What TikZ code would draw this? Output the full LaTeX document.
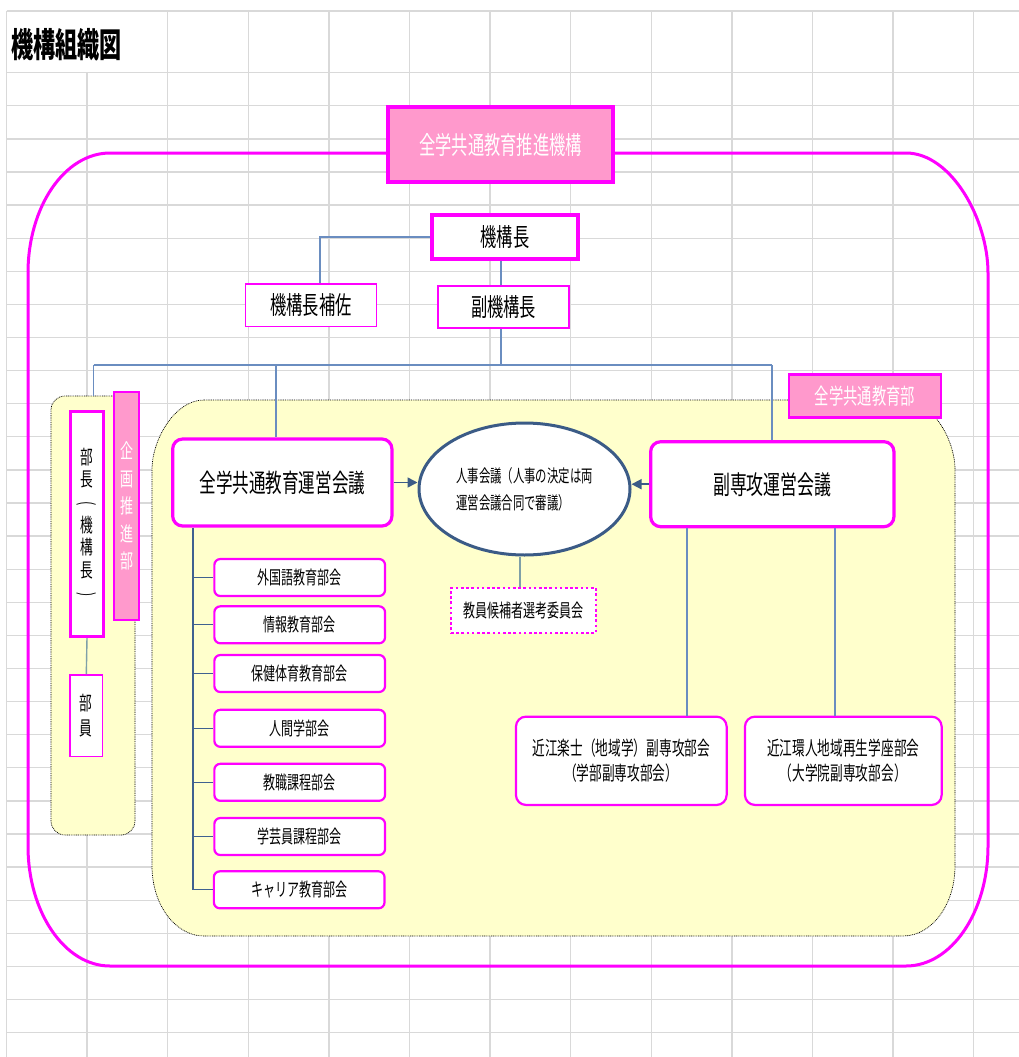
\documentclass[tikz,border=0pt]{standalone}
\usepackage{fontspec}
\newfontfamily\jp[FakeStretch=0.65]{Noto Sans CJK JP}
\usetikzlibrary{shapes.geometric,arrows.meta,calc}
\definecolor{mag}{HTML}{FF00FF}
\definecolor{pinkf}{HTML}{FF99CC}
\definecolor{yel}{HTML}{FFFFCC}
\definecolor{gridc}{HTML}{D9D9D9}
\definecolor{connc}{HTML}{6A8DC0}
\definecolor{dconnc}{HTML}{3F6190}
\definecolor{gconnc}{HTML}{7FA0A8}
\definecolor{ellc}{HTML}{3B5B86}
\newcommand{\vlp}{\rotatebox[origin=c]{-90}{(}}
\newcommand{\vrp}{\rotatebox[origin=c]{-90}{)}}
\tikzset{
  gridl/.style={draw=gridc, line width=1.3pt},
  panel/.style={fill=yel, draw=black, line width=0.7pt, dash pattern=on 0.9pt off 0.9pt},
  box/.style={draw=mag, fill=white, inner sep=0pt, text=black, font=\jp},
  thickbox/.style={box, line width=3.2pt},
  thinbox/.style={box, line width=1.4pt},
  midbox/.style={box, line width=2.2pt},
  pinkbox/.style={box, fill=pinkf, text=white, line width=2.8pt},
  subbox/.style={midbox, rounded corners=6pt, minimum width=170.7pt, minimum height=37pt,
     font=\jp\fontsize{18.5}{22}\selectfont},
  conn/.style={draw=connc, line width=1.2pt},
  dconn/.style={draw=dconnc, line width=1.2pt},
  gconn/.style={draw=gconnc, line width=1.4pt},
  arr/.style={draw=ellc, line width=1.6pt, -{Triangle[length=10pt,width=10pt]}},
}
\begin{document}
\begin{tikzpicture}[x=1pt,y=-1pt]
\useasboundingbox[fill=white] (0,0) rectangle (1019,1057);
% spreadsheet grid
\draw[gridl] (6.5,11) -- (1019,11);
\foreach \k in {0,...,29} \draw[gridl] (6.5,{72.7+33.1*\k}) -- (1019,{72.7+33.1*\k});
\foreach \k in {0,2,3,4,5,6,7,8,9,10,11,12} \draw[gridl] ({6.5+80.6*\k},11) -- ({6.5+80.6*\k},1057);
\draw[gridl] (87.1,72.7) -- (87.1,1057);
% title
\node[anchor=west, inner sep=0pt, font=\jp\bfseries\fontsize{34}{36}\selectfont] (title) at (11,45) {機構組織図};
% outer rounded frame
\draw[mag, line width=3pt] (110,153) -- (906,153)
  .. controls (951.3,153) and (988,219.3) .. (988,273) -- (988,846)
  .. controls (988,912.3) and (951.3,966) .. (906,966) -- (110,966)
  .. controls (64.7,966) and (28,912.3) .. (28,846) -- (28,273)
  .. controls (28,206.7) and (64.7,153) .. (110,153) -- cycle;
% big yellow panel
\path[panel] (204,400) -- (903,400)
  .. controls (931.7,400) and (955,438.7) .. (955,470) -- (955,866)
  .. controls (955,904.7) and (931.7,936) .. (903,936) -- (204,936)
  .. controls (175.3,936) and (152,904.7) .. (152,866) -- (152,470)
  .. controls (152,438.7) and (175.3,400) .. (204,400) -- cycle;
% left yellow panel
\node[panel, rounded corners=14pt, minimum width=84pt, minimum height=439pt, inner sep=0pt] (lpanel) at (93,615.5) {};
% top nodes
\node[pinkbox, line width=3.2pt, minimum width=225pt, minimum height=75pt, font=\jp\fontsize{25}{30}\selectfont] (suishin) at (500.5,144.5) {全学共通教育推進機構};
\node[thickbox, minimum width=146pt, minimum height=44pt, font=\jp\fontsize{25}{30}\selectfont] (kch) at (505,237) {機構長};
\node[thinbox, minimum width=131pt, minimum height=42.7pt, font=\jp\fontsize{25}{30}\selectfont] (hosa) at (311,305.3) {機構長補佐};
\node[thinbox, minimum width=131pt, minimum height=42pt, font=\jp\fontsize{25}{30}\selectfont] (fuku) at (503.5,307) {副機構長};
% left panel content
\node[thickbox, minimum width=33pt, minimum height=225pt, align=center, font=\jp\fontsize{19.5}{22.7}\selectfont] (bucho) at (87,524) {部\\長\\\vlp\\機\\構\\長\\\vrp};
\node[pinkbox, minimum width=25pt, minimum height=228pt, align=center, font=\jp\fontsize{20}{27.5}\selectfont] (kikaku) at (126.5,506) {企\\画\\推\\進\\部};
\node[thinbox, minimum width=32.7pt, minimum height=81.7pt, align=center, font=\jp\fontsize{19.5}{25}\selectfont] (buin) at (86.3,715.8) {部\\員};
% big panel content
\node[pinkbox, minimum width=152pt, minimum height=43pt, font=\jp\fontsize{22}{26}\selectfont] (kyotsubu) at (865,396.2) {全学共通教育部};
\node[thickbox, rounded corners=10pt, minimum width=219.3pt, minimum height=87pt, font=\jp\fontsize{25.5}{30}\selectfont] (unei) at (282.3,482.5) {全学共通教育運営会議};
\node[ellipse, draw=ellc, fill=white, line width=3pt, minimum width=211pt, minimum height=132pt, inner sep=0pt, align=left, font=\jp\fontsize{17.5}{27}\selectfont] (jinji) at (524.5,489) {人事会議（人事の決定は両\\運営会議合同で審議）};
\node[box, line width=2.6pt, dash pattern=on 2.6pt off 2.6pt, minimum width=145pt, minimum height=45pt, font=\jp\fontsize{18.5}{22}\selectfont] (senko) at (523.5,610.5) {教員候補者選考委員会};
\node[thickbox, rounded corners=10pt, minimum width=243.3pt, minimum height=85pt, font=\jp\fontsize{26}{30}\selectfont] (fukuunei) at (772.3,484.2) {副専攻運営会議};
\node[midbox, rounded corners=10pt, minimum width=210.7pt, minimum height=88.3pt, align=center, font=\jp\fontsize{19.5}{24.7}\selectfont] (omi1) at (621.3,760.8) {近江楽士（地域学）副専攻部会\\（学部副専攻部会）};
\node[midbox, rounded corners=10pt, minimum width=196.7pt, minimum height=88.3pt, align=center, font=\jp\fontsize{19.5}{24.7}\selectfont] (omi2) at (843.3,760.8) {近江環人地域再生学座部会\\（大学院副専攻部会）};
% sub committees
\node[subbox] (s1) at (299.7,577.5) {外国語教育部会};
\node[subbox] (s2) at (299.7,624.8) {情報教育部会};
\node[subbox] (s3) at (299.7,673.5) {保健体育教育部会};
\node[subbox] (s4) at (299.7,728.3) {人間学部会};
\node[subbox] (s5) at (299.7,782.3) {教職課程部会};
\node[subbox] (s6) at (299.7,836.5) {学芸員課程部会};
\node[subbox] (s7) at (299.2,889.8) {キャリア教育部会};
% connectors
\coordinate (tb) at (501,365);
\coordinate (lb) at (93.6,365);
\coordinate (mb) at (276,365);
\coordinate (rb) at (772,365);
\draw[conn] (kch.west) -| ([xshift=9pt]hosa.north);
\draw[conn] (kch.south -| tb) -- (fuku.north -| tb);
\draw[conn] (fuku.south -| tb) -- (tb);
\draw[conn] (lb) -- (rb);
\draw[conn] (lb) -- (lpanel.north -| lb);
\draw[conn] (mb) -- (unei.north -| mb);
\draw[conn] (rb) -- (fukuunei.north -| rb);
\draw[gconn] (bucho.south) -- (buin.north);
\draw[arr] (unei.east) -- (unei.east -| jinji.west);
\draw[arr] (fukuunei.west) -- (fukuunei.west -| jinji.east);
\coordinate (jx) at (520,0);
\draw[gconn] (jinji.south -| jx) -- (senko.north -| jx);
\coordinate (sx) at (193,0);
\draw[dconn] (unei.south -| sx) -- (s7.west -| sx);
\foreach \i in {1,...,7} \draw[dconn] (s\i.west -| sx) -- (s\i.west);
\coordinate (d1) at (687,0);
\coordinate (d2) at (835,0);
\draw[conn] (fukuunei.south -| d1) -- (omi1.north -| d1);
\draw[conn] (fukuunei.south -| d2) -- (omi2.north -| d2);
\end{tikzpicture}
\end{document}
